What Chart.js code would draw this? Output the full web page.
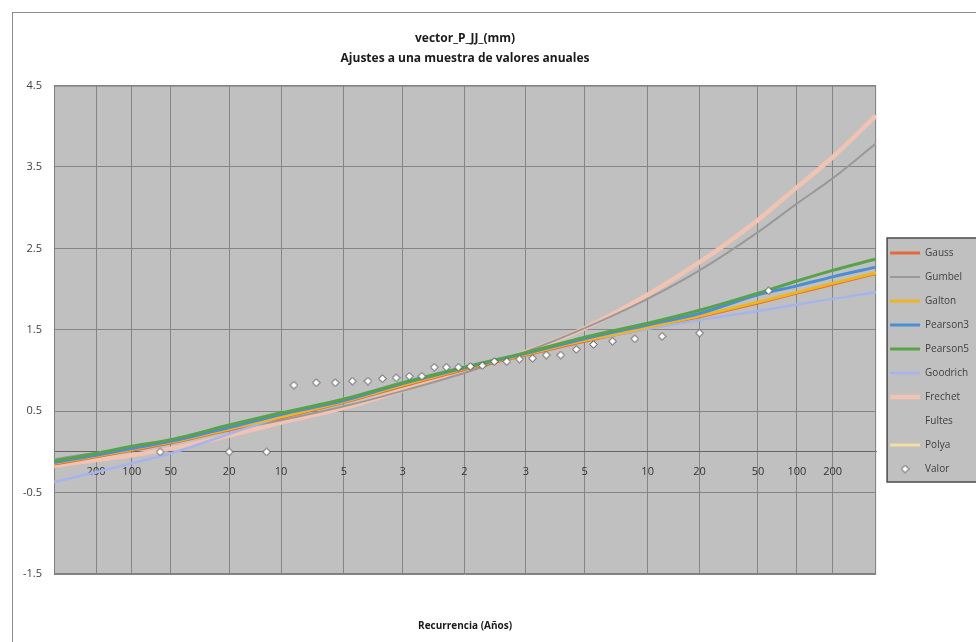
<!DOCTYPE html>
<html>
<head>
<meta charset="utf-8">
<script src="https://cdn.jsdelivr.net/npm/chart.js@4.4.1/dist/chart.umd.min.js"></script>
<style>
  html, body { margin: 0; padding: 0; background: #fff; overflow: hidden; }
  #wrap { position: absolute; left: 0; top: 0; }
  #frame { position: absolute; left: 12px; top: 12px; width: 1100px; height: 800px; border: 1px solid #8c8c8c; pointer-events: none; }
</style>
</head>
<body>
<div id="wrap"><canvas id="chart" width="990" height="642"></canvas></div>
<div id="frame"></div>
<script>
// eje X = variable normal tipificada (papel probabilistico), etiquetas en años
const tickZ = [-2.576, -2.326, -2.054, -1.645, -1.282, -0.842, -0.431, 0, 0.431, 0.842, 1.282, 1.645, 2.054, 2.326, 2.576];
const tickLabels = ['200', '100', '50', '20', '10', '5', '3', '2', '3', '5', '10', '20', '50', '100', '200'];

// puntos donde se leen las curvas ajustadas
const xFit = [-2.87, -2.576, -2.326, -2.054, -1.645, -1.282, -0.842, -0.431, 0, 0.431, 0.842, 1.282, 1.645, 2.054, 2.326, 2.576, 2.88];
const gauss    = [-0.15, -0.06, 0.02, 0.11, 0.27, 0.42, 0.61, 0.81, 1.01, 1.19, 1.36, 1.52, 1.66, 1.83, 1.95, 2.06, 2.19];
const gumbel   = [-0.09, -0.01, 0.06, 0.14, 0.27, 0.39, 0.56, 0.75, 0.97, 1.23, 1.52, 1.88, 2.23, 2.70, 3.05, 3.36, 3.79];
const galton   = [-0.14, -0.05, 0.03, 0.12, 0.28, 0.43, 0.62, 0.82, 1.02, 1.20, 1.37, 1.53, 1.67, 1.84, 1.96, 2.07, 2.20];
const pearson3 = [-0.13, -0.04, 0.04, 0.13, 0.30, 0.46, 0.63, 0.84, 1.03, 1.21, 1.39, 1.56, 1.70, 1.93, 2.04, 2.15, 2.27];
const pearson5 = [-0.11, -0.02, 0.07, 0.15, 0.33, 0.48, 0.65, 0.85, 1.04, 1.22, 1.41, 1.58, 1.74, 1.95, 2.10, 2.23, 2.37];
const goodrich = [-0.37, -0.25, -0.14, -0.02, 0.22, 0.43, 0.64, 0.86, 1.05, 1.22, 1.37, 1.51, 1.62, 1.73, 1.81, 1.88, 1.96];
const frechet  = [-0.17, -0.10, -0.04, 0.04, 0.20, 0.36, 0.54, 0.76, 0.99, 1.23, 1.52, 1.93, 2.33, 2.85, 3.25, 3.62, 4.13];
const fultes   = [];
const polya    = [];

// muestra (posiciones de Hazen en variable normal)
const valorZ = [-2.128, -1.645, -1.383, -1.192, -1.036, -0.903, -0.783, -0.674, -0.573, -0.477, -0.385, -0.297, -0.210, -0.126, -0.042,
                0.042, 0.126, 0.210, 0.297, 0.385, 0.477, 0.573, 0.674, 0.783, 0.903, 1.036, 1.192, 1.383, 1.645, 2.128];
const valor  = [0, 0, 0, 0.82, 0.85, 0.85, 0.87, 0.87, 0.90, 0.91, 0.93, 0.93, 1.04, 1.04, 1.04,
                1.05, 1.06, 1.11, 1.11, 1.14, 1.15, 1.19, 1.19, 1.26, 1.32, 1.36, 1.39, 1.42, 1.46, 1.98];

const font = "'Open Sans', 'Noto Sans', sans-serif";

function pts(xs, ys) {
  return ys.map((y, i) => ({x: xs[i], y: y}));
}

function fit(label, ys, color, width, order) {
  return {
    label: label,
    data: pts(xFit, ys),
    order: order,
    showLine: true,
    borderColor: color,
    borderWidth: width,
    pointRadius: 0,
    pointHoverRadius: 0,
    pointStyle: 'line',
    pointBorderColor: color,
    pointBorderWidth: width,
    cubicInterpolationMode: 'monotone'
  };
}

// rombo blanco pequeño para la muestra (sirve tambien en la leyenda)
const diamond = document.createElement('canvas');
diamond.width = 9;
diamond.height = 9;
(function () {
  const c = diamond.getContext('2d');
  c.beginPath();
  c.moveTo(4.5, 0.8); c.lineTo(8.2, 4.5); c.lineTo(4.5, 8.2); c.lineTo(0.8, 4.5); c.closePath();
  c.fillStyle = '#ffffff';
  c.fill();
  c.strokeStyle = '#4a4a4a';
  c.lineWidth = 1;
  c.stroke();
})();

// order: el numero mas bajo se dibuja encima
const datasets = [
  fit('Gauss', gauss, '#e4693a', 3, 6),
  fit('Gumbel', gumbel, '#999999', 2, 7),
  fit('Galton', galton, '#f0b41c', 3, 3),
  fit('Pearson3', pearson3, '#4a8ed6', 3, 2),
  fit('Pearson5', pearson5, '#58a249', 3, 1),
  fit('Goodrich', goodrich, '#a6b4ec', 2.5, 4),
  fit('Frechet', frechet, '#f1c3b3', 4.5, 8),
  fit('Fultes', fultes, 'rgba(0,0,0,0)', 3, 9),
  fit('Polya', polya, '#f5dea6', 3, 5),
  {
    label: 'Valor',
    data: pts(valorZ, valor),
    order: 0,
    showLine: false,
    pointStyle: diamond,
    pointRadius: 4,
    pointHoverRadius: 4,
    backgroundColor: '#ffffff',
    borderColor: '#4a4a4a',
    borderWidth: 1
  }
];

const frame = {
  id: 'frame',
  afterLayout(chart) {
    chart.legend.top += 40;
    chart.legend.bottom += 40;
  },
  beforeDraw(chart) {
    const {ctx, chartArea: a} = chart;
    ctx.save();
    ctx.fillStyle = '#c0c0c0';
    ctx.fillRect(a.left, a.top, a.width, a.height);
    const hb = chart.legend.legendHitBoxes;
    if (hb && hb.length) {
      const last = hb[hb.length - 1];
      const left = hb[0].left - 3;
      const top = hb[0].top - 10;
      const h = last.top + last.height + 8 - top;
      ctx.fillRect(left, top, chart.width - left + 20, h);
      ctx.strokeStyle = '#4a4a4a';
      ctx.lineWidth = 1.5;
      ctx.strokeRect(left, top, chart.width - left + 20, h);
    }
    ctx.restore();
  },
  beforeDatasetsDraw(chart) {
    const {ctx, chartArea: a} = chart;
    ctx.save();
    ctx.strokeStyle = '#808080';
    ctx.lineWidth = 1;
    ctx.strokeRect(a.left + 0.5, a.top + 0.5, a.width - 1, a.height - 1);
    ctx.restore();
  }
};

new Chart(document.getElementById('chart'), {
  type: 'scatter',
  data: { datasets: datasets },
  options: {
    responsive: false,
    animation: false,
    layout: { padding: { left: 11, right: 11, top: 0, bottom: 0 } },
    scales: {
      x: {
        type: 'linear',
        min: -2.87,
        max: 2.88,
        position: { y: 0 },
        afterBuildTicks: (scale) => { scale.ticks = tickZ.map(v => ({value: v})); },
        ticks: {
          autoSkip: false,
          maxRotation: 0,
          padding: 13,
          color: '#333333',
          font: { family: font, size: 11 },
          callback: (value, index) => tickLabels[index]
        },
        grid: { color: '#858585', lineWidth: 1, drawTicks: false },
        border: { display: true, color: '#666666', width: 1 }
      },
      y: {
        min: -1.5,
        max: 4.5,
        afterBuildTicks: (scale) => {
          scale.ticks = [-1.5, -0.5, 0.5, 1.5, 2.5, 3.5, 4.5].map(v => ({value: v}));
        },
        ticks: {
          padding: 12,
          color: '#404040',
          font: { family: font, size: 11 },
          callback: (v) => v.toFixed(1)
        },
        grid: { color: '#858585', lineWidth: 1, drawTicks: false },
        border: { display: true, color: '#808080' }
      }
    },
    plugins: {
      legend: {
        position: 'right',
        labels: {
          usePointStyle: true,
          pointStyleWidth: 30,
          boxHeight: 6,
          padding: 14,
          color: '#404040',
          font: { family: font, size: 10 },
          sort: (a, b) => a.datasetIndex - b.datasetIndex
        }
      },
      title: {
        display: true,
        fullSize: false,
        text: ['vector_P_JJ_(mm)', 'Ajustes a una muestra de valores anuales'],
        color: '#1a1a1a',
        font: { family: font, size: 12, weight: 'bold', lineHeight: 1.65 },
        padding: { top: 29, bottom: 17 }
      },
      subtitle: {
        display: true,
        fullSize: false,
        position: 'bottom',
        text: 'Recurrencia (Años)',
        color: '#1a1a1a',
        font: { family: font, size: 10, weight: 'bold' },
        padding: { top: 46, bottom: 10 }
      },
      tooltip: { enabled: false }
    }
  },
  plugins: [frame]
});
</script>
</body>
</html>
